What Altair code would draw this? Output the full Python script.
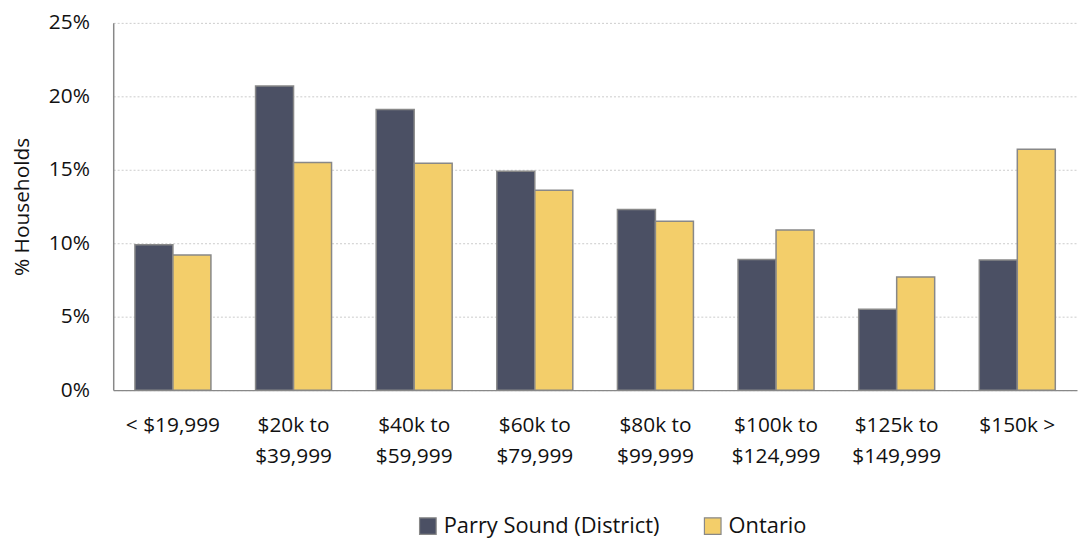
import altair as alt
import pandas as pd

categories = ["< $19,999", "$20k to|$39,999", "$40k to|$59,999", "$60k to|$79,999",
              "$80k to|$99,999", "$100k to|$124,999", "$125k to|$149,999", "$150k >"]
series = ["Parry Sound (District)", "Ontario"]
parry = [9.9, 20.7, 19.1, 14.9, 12.3, 8.9, 5.5, 8.85]
ontario = [9.2, 15.5, 15.45, 13.6, 11.5, 10.9, 7.7, 16.4]
colors = ["#4b5064", "#f3ce6a"]

rows = []
for c, p, o in zip(categories, parry, ontario):
    rows.append({"cat": c, "series": series[0], "value": p / 100})
    rows.append({"cat": c, "series": series[1], "value": o / 100})
df = pd.DataFrame(rows)

FONT = "Open Sans"
FS = 21

chart = alt.Chart(df).mark_bar(stroke="#888888", strokeWidth=1.5).encode(
    x=alt.X("cat:N", sort=categories, title=None,
            scale=alt.Scale(paddingInner=0.37, paddingOuter=0.18),
            axis=alt.Axis(labelAngle=0, labelExpr="split(datum.label, '|')",
                          labelFontSize=FS, labelFont=FONT, labelColor="#111111",
                          labelPadding=36, labelLineHeight=31, labelBaseline="middle",
                          ticks=False, domainColor="#888888", domainWidth=1.5,
                          grid=False)),
    xOffset=alt.XOffset("series:N", sort=series),
    y=alt.Y("value:Q", title="% Households",
            scale=alt.Scale(domain=[0, 0.25]),
            axis=alt.Axis(format=".0%", values=[0, 0.05, 0.1, 0.15, 0.2, 0.25],
                          labelFontSize=FS, labelFont=FONT, labelColor="#111111",
                          labelPadding=24, ticks=False,
                          titleFontSize=FS, titleFont=FONT, titleFontWeight="normal",
                          titleColor="#111111", titlePadding=16,
                          domainColor="#888888", domainWidth=1.5,
                          gridColor="#cccccc", gridDash=[2, 2], gridWidth=1)),
    color=alt.Color("series:N", sort=series,
                    scale=alt.Scale(domain=series, range=colors),
                    legend=alt.Legend(title=None, orient="none", direction="horizontal",
                                      legendX=306, legendY=496,
                                      symbolType="square", symbolSize=280,
                                      symbolStrokeColor="#888888", symbolStrokeWidth=1.2,
                                      labelFontSize=22, labelFont=FONT, labelColor="#111111",
                                      labelLimit=400,
                                      columnPadding=42, labelOffset=5)),
).properties(
    width=971, height=370,
    padding={"left": 106, "top": 13, "right": 1, "bottom": 147},
    autosize=alt.AutoSizeParams(type="none"),
).configure_view(stroke=None)

chart.save("out.html", embed_options={"renderer": "svg", "actions": False})
